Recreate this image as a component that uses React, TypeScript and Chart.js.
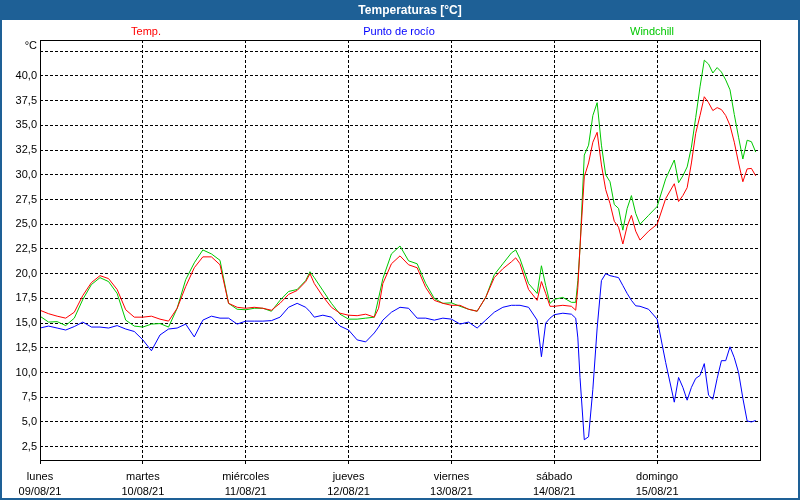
import React, { useEffect, useRef } from "react";
import { Chart, registerables } from "chart.js";

Chart.register(...registerables);

// Hours since lunes 09/08/21 00:00
const hours = [
  0, 2, 4, 6, 8, 10, 12, 14, 16, 18, 20, 22, 24, 26, 28, 30, 32, 34, 36, 38, 40, 42, 44, 46, 48, 50, 52, 54, 56, 58,
  60, 62, 63, 64, 66, 68, 70, 72, 74, 76, 78, 79, 80, 82, 84, 86, 88, 90, 92, 94, 96, 98, 100, 102, 104, 106, 108,
  110, 111, 112, 114, 116, 117, 118, 119, 120, 122, 124, 125, 125.5, 126, 127, 128, 129, 130, 131, 132, 133, 134,
  135, 136, 137, 138, 139, 140, 142, 144, 146, 148, 149, 150, 151, 152, 153, 154, 155, 156, 157, 158, 159, 160,
  161, 162, 163, 164, 165, 166, 167,
];

const temp = [
  16.3, 15.95, 15.7, 15.5, 16.1, 17.8, 19.1, 19.8, 19.5, 18.4, 16.35, 15.6, 15.6, 15.7, 15.4, 15.2, 16.5, 18.7, 20.6,
  21.7, 21.7, 20.9, 17.0, 16.6, 16.5, 16.6, 16.5, 16.3, 17.0, 17.9,
  18.3, 19.2, 20.0, 19.0, 17.7, 16.6, 16.0, 15.8, 15.75, 15.9, 15.6, 16.5, 19.0, 21.0, 21.8, 20.9, 20.6, 18.6, 17.3,
  17.0, 16.8, 16.8, 16.4, 16.2, 17.6, 19.6, 20.5,
  21.2, 21.6, 21.0, 18.4, 17.3, 19.2, 18.0, 16.7, 16.7, 16.8, 16.7, 16.3, 18.6, 22.7, 29.8, 31.2, 33.3, 34.3, 31.0,
  28.5, 27.1, 25.3,
  24.7, 23.0, 24.8, 25.9, 24.3, 23.4, 24.3, 25.0, 27.6, 29.1, 27.3, 27.9, 28.7, 31.2, 34.2, 36.0, 37.9, 37.3, 36.5,
  36.8, 36.6, 36.0,
  35.0, 33.3, 31.2, 29.3, 30.6, 30.65, 29.9,
];

const dewPoint = [
  14.5, 14.7, 14.5, 14.3, 14.65, 15.1, 14.6, 14.6, 14.5, 14.75, 14.4, 14.15, 13.3, 12.2, 13.8, 14.4, 14.5, 14.9, 13.6,
  15.3, 15.7, 15.5, 15.5, 14.9, 15.2, 15.2, 15.2, 15.25, 15.6, 16.6,
  17.0, 16.6, 16.15, 15.6, 15.8, 15.6, 14.7, 14.3, 13.3, 13.1, 14.0, 14.6, 15.3, 16.1, 16.6, 16.5, 15.5, 15.5, 15.3,
  15.5, 15.4, 14.9, 15.1, 14.5, 15.3, 16.1, 16.6,
  16.8, 16.8, 16.8, 16.6, 15.3, 11.6, 15.0, 15.5, 15.85, 16.0, 15.9, 15.5, 13.5, 9.5, 3.2, 3.5, 8.3, 14.5, 19.3,
  20.0, 19.8, 19.7,
  19.6, 18.8, 18.0, 17.3, 16.75, 16.7, 16.4, 15.4, 11.0, 7.0, 9.5, 8.5, 7.2, 8.5, 9.4, 9.7, 10.9, 7.7, 7.3, 9.4,
  11.2, 11.2,
  12.6, 11.5, 10.0, 7.4, 5.1, 5.0, 5.15,
];

const windchill = [
  15.7, 15.1, 15.15, 14.75, 15.5, 17.4, 18.9, 19.6, 19.2, 18.0, 15.3, 14.7, 14.6, 14.9, 14.95, 14.6, 16.5, 19.4,
  21.1, 22.4, 22.0, 21.35, 17.0, 16.4, 16.35, 16.5, 16.5, 16.2, 17.3, 18.2,
  18.4, 19.3, 20.2, 19.6, 18.3, 17.0, 15.9, 15.4, 15.4, 15.5, 15.6, 17.5, 19.5, 22.0, 22.8, 21.3, 21.0, 19.0, 17.5,
  17.0, 17.05, 16.7, 16.4, 16.2, 17.6, 19.9, 21.0,
  22.1, 22.4, 21.5, 19.0, 18.0, 20.8, 18.8, 17.0, 17.4, 17.6, 17.1, 17.1, 19.3, 22.6, 32.0, 33.0, 36.0, 37.3, 33.0,
  30.0, 29.3, 27.0,
  26.6, 24.4, 26.6, 27.9, 26.1, 25.0, 25.9, 26.8, 29.6, 31.5, 29.2, 29.9, 30.8, 32.8, 35.8, 38.9, 41.6, 41.2, 40.3,
  40.85, 40.4, 39.6,
  38.6, 36.1, 33.8, 31.6, 33.5, 33.35, 32.3,
];

const dayTicks = [0, 24, 48, 72, 96, 120, 144];
const dayNames = ["lunes", "martes", "miércoles", "jueves", "viernes", "sábado", "domingo"];
const dayDates = ["09/08/21", "10/08/21", "11/08/21", "12/08/21", "13/08/21", "14/08/21", "15/08/21"];
const yTicks = [2.5, 5, 7.5, 10, 12.5, 15, 17.5, 20, 22.5, 25, 27.5, 30, 32.5, 35, 37.5, 40, 42.5];
const seriesNames = ["Temp.", "Punto de rocío", "Windchill"];
const seriesColors = ["#ff0000", "#0000ff", "#00c800"];
const chartTitle = "Temperaturas [°C]";
const unitLabel = "°C";

const FONT = "'Liberation Sans', Arial, sans-serif";
const FRAME_BLUE = "#1e6096";

const decorPlugin = {
  id: "decor",
  beforeDraw(chart: any) {
    const { ctx, width, height } = chart;
    ctx.save();
    ctx.fillStyle = "#ffffff";
    ctx.fillRect(0, 0, width, height);
    ctx.restore();
  },
  afterDraw(chart: any) {
    const { ctx, chartArea: a, width, height } = chart;
    ctx.save();
    // plot frame
    ctx.strokeStyle = "#000000";
    ctx.lineWidth = 1;
    ctx.setLineDash([]);
    ctx.strokeRect(Math.round(a.left) + 0.5, Math.round(a.top) + 0.5, Math.round(a.right - a.left), Math.round(a.bottom - a.top));
    // title bar
    ctx.fillStyle = FRAME_BLUE;
    ctx.fillRect(0, 0, width, 20);
    ctx.strokeStyle = FRAME_BLUE;
    ctx.lineWidth = 2;
    ctx.strokeRect(1, 1, width - 2, height - 2);
    ctx.fillStyle = "#ffffff";
    ctx.font = `bold 12px ${FONT}`;
    ctx.textAlign = "center";
    ctx.textBaseline = "middle";
    ctx.fillText(chartTitle, 410, 10.5);
    // legend
    ctx.font = `11px ${FONT}`;
    const centers = [146, 399, 652];
    seriesNames.forEach((n, i) => {
      ctx.fillStyle = seriesColors[i];
      ctx.fillText(n, centers[i], 32);
    });
    // unit
    ctx.fillStyle = "#000000";
    ctx.textAlign = "right";
    ctx.fillText(unitLabel, 37, 46);
    ctx.restore();
  },
};

export default function App() {
  const ref = useRef<HTMLCanvasElement | null>(null);

  useEffect(() => {
    if (!ref.current) return;
    const mk = (vals: number[]) => hours.map((h, i) => ({ x: h, y: vals[i] }));
    const series = [temp, dewPoint, windchill];
    const chart = new Chart(ref.current, {
      type: "line",
      data: {
        datasets: series.map((vals, i) => ({
          label: seriesNames[i],
          data: mk(vals),
          borderColor: seriesColors[i],
          backgroundColor: seriesColors[i],
          borderWidth: 1,
          pointRadius: 0,
          tension: 0,
          fill: false,
        })),
      },
      options: {
        responsive: false,
        animation: false,
        events: [],
        layout: { padding: { left: 0, right: 40, top: 40, bottom: 0 } },
        plugins: { legend: { display: false }, title: { display: false }, tooltip: { enabled: false } },
        scales: {
          x: {
            type: "linear",
            min: 0,
            max: 168,
            afterBuildTicks: (s: any) => {
              s.ticks = dayTicks.map((v) => ({ value: v }));
            },
            afterFit: (s: any) => {
              s.height = 40;
            },
            grid: {
              color: "#000000",
              lineWidth: 1,
              drawTicks: true,
              tickLength: 4,
              tickColor: "#000000",
              tickBorderDash: [],
            },
            border: { display: false, dash: [3, 2] },
            ticks: {
              autoSkip: false,
              maxRotation: 0,
              padding: 5,
              color: "#000000",
              font: { family: FONT, size: 11, lineHeight: 1.4 },
              callback: (_v: any, i: number) => [dayNames[i], dayDates[i]],
            },
          },
          y: {
            type: "linear",
            min: 1.15,
            max: 43.64,
            afterBuildTicks: (s: any) => {
              s.ticks = yTicks.map((v) => ({ value: v }));
            },
            afterFit: (s: any) => {
              s.width = 40;
            },
            grid: { color: "#000000", lineWidth: 1, drawTicks: false },
            border: { display: false, dash: [3, 2] },
            ticks: {
              padding: 3,
              color: "#000000",
              font: { family: FONT, size: 11 },
              callback: (v: any) => (v === 42.5 ? "" : Number(v).toFixed(1).replace(".", ",")),
            },
          },
        },
      },
      plugins: [decorPlugin],
    } as any);
    return () => chart.destroy();
  }, []);

  return (
    <div style={{ position: "absolute", left: 0, top: 0, width: 800, height: 500 }}>
      <canvas ref={ref} width={800} height={500} style={{ display: "block" }} />
    </div>
  );
}
